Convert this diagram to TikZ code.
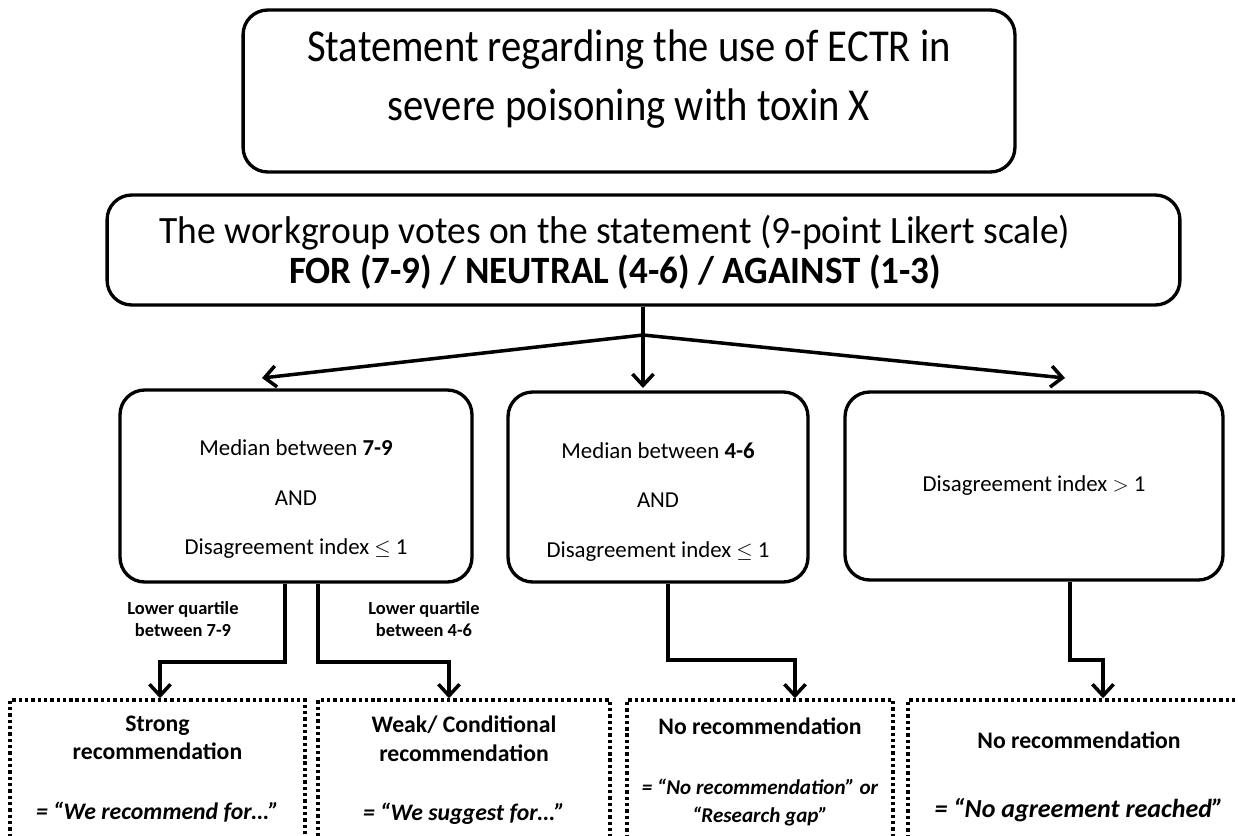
\documentclass[tikz,border=0pt]{standalone}
\usepackage{fontspec}
\setmainfont{Carlito}
\newfontfamily\narrowfont[FakeStretch=0.89]{Carlito}
\newfontfamily\votefont[FakeStretch=0.97]{Carlito}
\newfontfamily\voteboldfont[FakeStretch=0.96]{Carlito}
\usetikzlibrary{arrows.meta}

\tikzset{
	panel/.style={draw, line width=1.9pt, rounded corners=14pt, align=center},
	outcome/.style={draw, line width=2pt, dash pattern=on 1.9pt off 1.7pt, minimum height=4cm},
	link/.style={line width=2pt},
	flow/.style={line width=2pt, -{Straight Barb[length=6.5pt, width=12pt, line width=2pt]}},
	note/.style={font=\fontsize{10.5}{12.5}\selectfont\bfseries, align=center},
	verdict/.style={font=\fontsize{13.5}{16}\selectfont, align=center, anchor=north},
	mid/.style={font=\fontsize{13}{16}\selectfont},
}
\newcommand{\quotesmall}{\fontsize{12}{14.5}\selectfont\bfseries\itshape}
\newcommand{\quotelarge}{\fontsize{14.8}{16}\selectfont\bfseries\itshape}

\begin{document}
\begin{tikzpicture}[x=0.02cm, y=-0.02cm]
	\useasboundingbox (0,0) rectangle (1236,835);
	\clip (0,0) rectangle (1236,835);

	% statement and vote
	\node[panel, minimum width=15.44cm, minimum height=3.24cm] (stmt) at (629, 91) {};
	\node[font=\narrowfont\fontsize{26}{34}\selectfont, align=center] (stmt-t) at (629, 79)
		{Statement regarding the use of ECTR in\\severe poisoning with toxin X};
	\node[panel, minimum width=21.46cm, minimum height=2.2cm] (vote) at (643.5, 250) {};
	\node[font=\fontsize{22}{23}\selectfont, align=center] (vote-t) at (615, 252)
		{{\votefont The workgroup votes on the statement (9-point Likert scale)}\\{\voteboldfont\bfseries FOR (7-9) / NEUTRAL (4-6) / AGAINST (1-3)}};

	% the three results
	\node[panel, mid, minimum width=7.04cm, minimum height=3.84cm] (agree)    at (296, 486)
		{\\[8pt]Median between \textbf{7-9}\\[12pt]AND\\[12pt]Disagreement index $\leq$ 1};
	\node[panel, mid, minimum width=6.00cm, minimum height=3.80cm] (neutral)  at (658, 487)
		{\\[10pt]Median between \textbf{4-6}\\[12pt]AND\\[12pt]Disagreement index $\leq$ 1};
	\node[panel, mid, minimum width=7.56cm, minimum height=3.76cm] (disagree) at (1034, 486)
		{Disagreement index $>$ 1};

	% recommendations
	\node[outcome, minimum width=5.90cm] (reca) at (157.5, 800) {};
	\node[outcome, minimum width=5.84cm] (recb) at (464,   800) {};
	\node[outcome, minimum width=5.32cm] (recc) at (760,   800) {};
	\node[outcome, minimum width=6.84cm] (recd) at (1079,  800) {};

	\node[verdict] (reca-t) at (157.5, 710) {\textbf{Strong}\\\textbf{recommendation}\\[18pt]\textbf{\textit{= “We recommend for…”}}};
	\node[verdict] (recb-t) at (464,   710) {\textbf{Weak/ Conditional}\\\textbf{recommendation}\\[18pt]\textbf{\textit{= “We suggest for…”}}};
	\node[verdict] (recc-t) at (760,   712) {\textbf{No recommendation}\\[18pt]\quotesmall = “No recommendation” or\\\quotesmall “Research gap”};
	\node[verdict] (recd-t) at (1079,  726) {\textbf{No recommendation}\\[23pt]\quotelarge = “No agreement reached”};

	% quartile labels
	\node[note] (qlow)  at (183, 619) {Lower quartile\\between 7-9};
	\node[note] (qhigh) at (424, 619) {Lower quartile\\between 4-6};

	% split
	\coordinate (split) at (643, 335);
	\coordinate (tipa)  at (262, 378);
	\coordinate (tipb)  at (643, 388);
	\coordinate (tipc)  at (1065, 378);

	\draw[link] (vote.south -| split) -- (split);
	\draw[flow] (split) -- (tipa);
	\draw[flow] (split) -- (tipb);
	\draw[flow] (split) -- (tipc);

	\coordinate (benda) at (285, 662);
	\coordinate (bendb) at (318, 662);
	\coordinate (bendc) at (668, 660);
	\coordinate (bendd) at (1070, 660);

	\draw[flow] (agree.south -| benda)    -- (benda) -| ([xshift=0.05cm]reca.north);
	\draw[flow] (agree.south -| bendb)    -- (bendb) -| ([xshift=-0.3cm]recb.north);
	\draw[flow] (neutral.south -| bendc)  -- (bendc) -| ([xshift=0.7cm]recc.north);
	\draw[flow] (disagree.south -| bendd) -- (bendd) -| ([xshift=0.48cm]recd.north);
\end{tikzpicture}
\end{document}
